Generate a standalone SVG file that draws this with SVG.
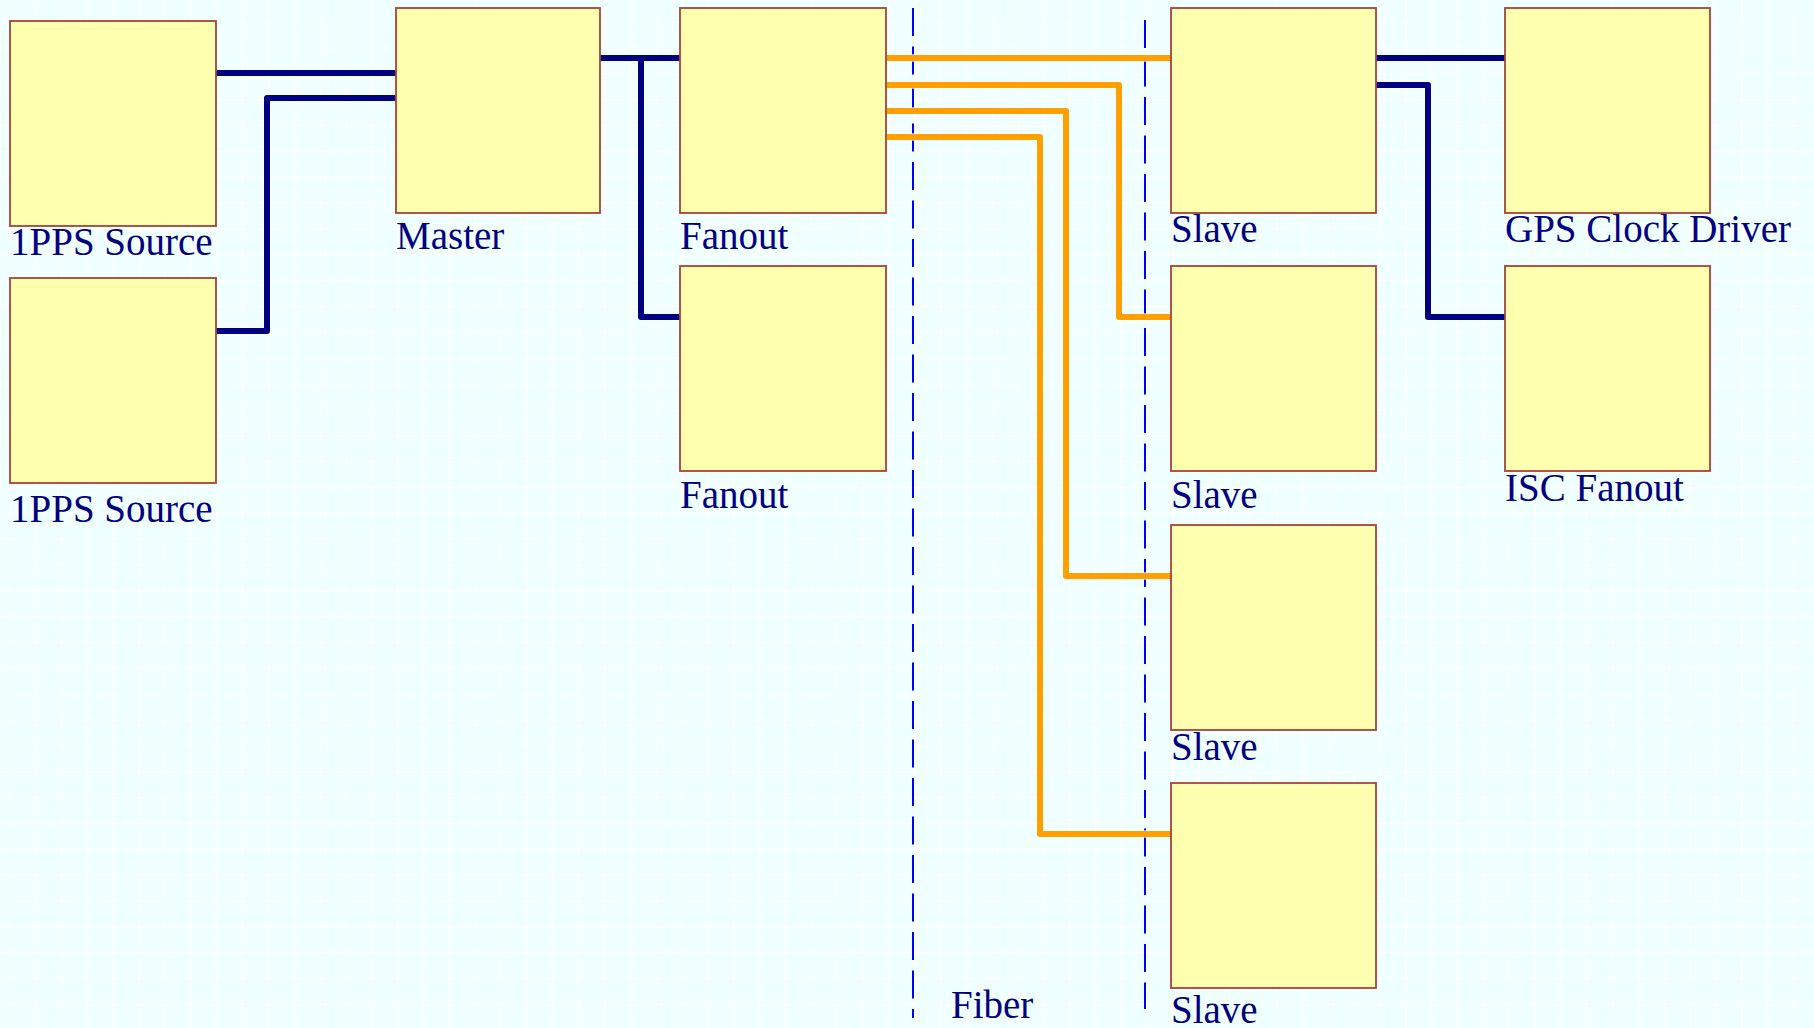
<svg xmlns="http://www.w3.org/2000/svg" width="1814" height="1028" viewBox="0 0 1814 1028">
<style>
.box{fill:#FFFFB0;stroke:#A8433A;stroke-width:1.8}
.lbl{font-family:"Liberation Serif","Times New Roman",serif;font-size:39px;fill:#000080}
.nv{fill:none;stroke:#000080;stroke-width:6;stroke-linejoin:round}
.or{fill:none;stroke:#FFA000;stroke-width:6;stroke-linejoin:round}
.halo{fill:none;stroke:#FFFFFF;stroke-opacity:0.6;stroke-width:8;stroke-linejoin:round}
.dash{fill:none;stroke:#0000FF;stroke-width:2;stroke-dasharray:28 10.5}
</style>
<defs>
<pattern id="grid" patternUnits="userSpaceOnUse" x="9.4" y="21.6" width="25.85" height="25.85">
<rect width="25.85" height="25.85" fill="#F0FFFF"/>
<path d="M0.6,0 V25.85 M0,0.6 H25.85" stroke="#FFFFFF" stroke-width="1.3" fill="none"/>
</pattern>
</defs>
<rect width="1814" height="1028" fill="url(#grid)"/>
<g id="fiber-zone">
<line class="dash" x1="913" y1="8" x2="913" y2="1018"/>
<line class="dash" x1="1145" y1="20" x2="1145" y2="1009"/>
<text class="lbl" x="951" y="1018">Fiber</text>
</g>
<g id="connectors">
<path class="halo" d="M215,73 H396 M215,331 H267 V98 H396 M600,58 H680 M641,58 V317 H680 M1376,58 H1505 M1376,85 H1428 V317 H1505 M886,58 H1171 M886,85 H1119 V317 H1171 M886,111 H1066 V576 H1171 M886,137 H1040 V834 H1171"/>
<path class="nv" d="M215,73 H396"/>
<path class="nv" d="M215,331 H267 V98 H396"/>
<path class="nv" d="M600,58 H680"/>
<path class="nv" d="M641,58 V317 H680"/>
<path class="or" d="M886,58 H1171"/>
<path class="or" d="M886,85 H1119 V317 H1171"/>
<path class="or" d="M886,111 H1066 V576 H1171"/>
<path class="or" d="M886,137 H1040 V834 H1171"/>
<path class="nv" d="M1376,58 H1505"/>
<path class="nv" d="M1376,85 H1428 V317 H1505"/>
</g>
<g id="src1"><rect class="box" x="10" y="21" width="206" height="205"/><text class="lbl" x="10" y="255">1PPS Source</text></g>
<g id="src2"><rect class="box" x="10" y="278" width="206" height="205"/><text class="lbl" x="10" y="522">1PPS Source</text></g>
<g id="master"><rect class="box" x="396" y="8" width="204" height="205"/><text class="lbl" x="396" y="249">Master</text></g>
<g id="fanout1"><rect class="box" x="680" y="8" width="206" height="205"/><text class="lbl" x="680" y="249">Fanout</text></g>
<g id="fanout2"><rect class="box" x="680" y="266" width="206" height="205"/><text class="lbl" x="680" y="508">Fanout</text></g>
<g id="slave1"><rect class="box" x="1171" y="8" width="205" height="205"/><text class="lbl" x="1171" y="242">Slave</text></g>
<g id="slave2"><rect class="box" x="1171" y="266" width="205" height="205"/><text class="lbl" x="1171" y="508">Slave</text></g>
<g id="slave3"><rect class="box" x="1171" y="525" width="205" height="205"/><text class="lbl" x="1171" y="760">Slave</text></g>
<g id="slave4"><rect class="box" x="1171" y="783" width="205" height="205"/><text class="lbl" x="1171" y="1023">Slave</text></g>
<g id="gps"><rect class="box" x="1505" y="8" width="205" height="205"/><text class="lbl" x="1505" y="242">GPS Clock Driver</text></g>
<g id="isc"><rect class="box" x="1505" y="266" width="205" height="205"/><text class="lbl" x="1505" y="501">ISC Fanout</text></g>
</svg>
